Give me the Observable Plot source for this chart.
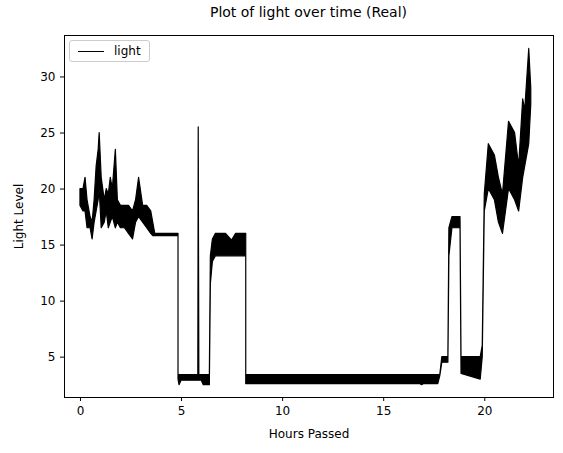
<!DOCTYPE html>
<html>
<head>
<meta charset="utf-8">
<script src="https://cdn.jsdelivr.net/npm/d3@7"></script>
<script src="https://cdn.jsdelivr.net/npm/@observablehq/plot@0.6"></script>
<style>
  body { margin: 0; background: #fff; font-family: "DejaVu Sans", sans-serif; }
  #wrap { position: relative; width: 563px; height: 453px; }
  #title { position: absolute; top: 4px; left: 64px; width: 489px; text-align: center; font-size: 14px; }
  #legend { position: absolute; top: 40px; left: 69px; border: 1px solid #ccc; border-radius: 3px;
            padding: 3px 8px; font-size: 12px; background: #fff; display: flex; align-items: center; }
  #legend span.sw { display: inline-block; width: 26px; border-top: 1px solid #000; margin-right: 10px; }
</style>
</head>
<body>
<div id="wrap">
  <div id="chart"></div>
  <div id="title">Plot of light over time (Real)</div>
  <div id="legend"><span class="sw"></span>light</div>
</div>
<script>
// envelope of the light signal: hour, lower value, upper value
const hours = [0.0,0.15,0.25,0.35,0.5,0.6,0.7,0.8,0.9,0.95,1.05,1.2,1.3,1.4,1.5,1.6,1.75,1.85,2.0,2.2,2.4,2.6,2.75,2.9,3.1,3.3,3.5,3.6,3.7,4.85,4.85,4.9,5.0,5.83,5.85,5.88,6.0,6.1,6.4,6.45,6.55,6.7,7.2,7.5,7.7,8.2,8.2,16.8,16.9,17.0,17.7,17.8,17.9,18.2,18.25,18.4,18.8,18.85,19.8,19.9,20.0,20.2,20.5,20.7,20.9,21.2,21.5,21.7,21.9,22.0,22.2,22.3];
const lowVals = [18.5,18,18,16.5,16.5,15.5,17,18,19,20,16.5,17,18,16.5,17,17.5,16.5,17,16.5,16.5,16,15.5,17,17.5,17,16.5,16,15.8,15.8,15.8,3.0,2.5,2.9,2.9,2.9,2.9,2.9,2.5,2.5,11.5,13.5,14,14,14,14,14,2.6,2.6,2.5,2.6,2.6,3.3,4.5,4.5,14,16.5,16.5,3.5,3,5,18,20,19,17,16,20,19,18,21,22,24,27.5];
const highVals = [20,20,21,19,17.5,17,19,22,23.5,25,21,19,20,19.5,21,20,23.5,19,18.5,18.5,18.5,18,19,21,18.5,18.5,18,17,16,16,3.4,3.4,3.4,3.4,25.5,3.4,3.4,3.4,3.4,14,15.5,16,16,15.4,16,16,3.4,3.4,3.4,3.4,3.4,3.4,5,5,16.5,17.5,17.5,5,5,6,19.5,24,23,21,19.5,26,25,22,28,27,32.5,29];

const rows = hours.map((h, i) => ({ h, lo: lowVals[i], hi: highVals[i] }));

const chart = Plot.plot({
  width: 563,
  height: 453,
  marginTop: 35,
  marginBottom: 56,
  marginLeft: 64,
  marginRight: 10,
  style: { fontFamily: "DejaVu Sans, sans-serif", fontSize: "12px", color: "#000" },
  x: { domain: [-0.79, 23.4], ticks: [0, 5, 10, 15, 20], tickFormat: d => d, label: "Hours Passed", labelAnchor: "center", labelArrow: "none", labelOffset: 40, tickSize: 4 },
  y: { domain: [1.4, 33.7], ticks: [5, 10, 15, 20, 25, 30], tickFormat: d => d, label: "Light Level", labelAnchor: "center", labelArrow: "none", labelOffset: 50, tickSize: 4 },
  marks: [
    Plot.areaY(rows, { x: "h", y1: "lo", y2: "hi", fill: "#000", stroke: "#000", strokeWidth: 1.2 }),
    Plot.frame({ stroke: "#000" })
  ]
});
document.getElementById("chart").appendChild(chart);
</script>
</body>
</html>
